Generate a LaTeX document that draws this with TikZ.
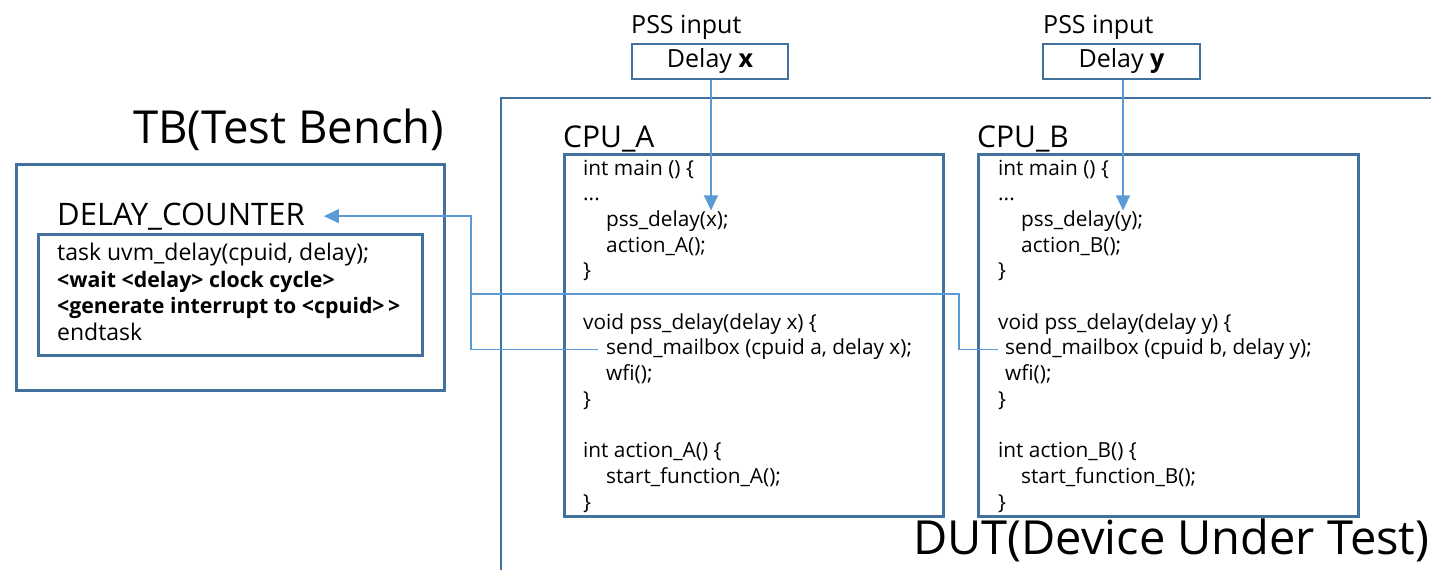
\documentclass[tikz,border=0pt]{standalone}
\usepackage{fontspec}
\setmainfont{Open Sans}
\usetikzlibrary{arrows.meta,calc}
\definecolor{boxblue}{RGB}{65,113,156}
\definecolor{linkblue}{RGB}{91,155,213}

\begin{document}
\begin{tikzpicture}[x=1pt,y=-1pt,
  frame/.style={draw=boxblue,line width=2.6pt,inner sep=0pt},
  conn/.style={draw=linkblue,line width=1.3pt},
  tip/.style={-{Triangle[length=15pt,width=14pt]}},
  txt/.style={anchor=base west,inner sep=0pt},
  code/.style={txt,font=\fontsize{20.8}{24}\selectfont},
  dccode/.style={txt,font=\fontsize{23}{27}\selectfont},
  dcbold/.style={txt,font=\fontsize{21.3}{27}\selectfont\bfseries},
  title/.style={txt,font=\fontsize{45.5}{50}\selectfont},
  blocklabel/.style={txt,font=\fontsize{30}{32}\selectfont},
  pss/.style={txt,font=\fontsize{25}{28}\selectfont},
]
\useasboundingbox (0,0) rectangle (1431,570);
\fill[white] (0,0) rectangle (1431,570);

% device under test (open to the right and below)
\draw[frame] (501,570) -- (501,98) -- (1431,98);
\node[title,font=\fontsize{47}{50}\selectfont] (dut) at (913,554) {DUT(Device Under Test)};

% test bench
\node[title] (tbt) at (133,143) {TB(Test Bench)};
\node[frame,minimum width=428pt,minimum height=226pt,anchor=north west] (tb) at (15,163) {};
\node[txt,font=\fontsize{31}{34}\selectfont] (dcl) at (57,225) {DELAY\_COUNTER};
\node[frame,minimum width=384pt,minimum height=121pt,anchor=north west] (dc) at (37,233) {};
\node[dccode] (dc1) at (57,260) {task uvm\_delay(cpuid, delay);};
\node[dcbold] (dc2) at (57,287) {<wait <delay> clock cycle>};
\node[dcbold] (dc3) at (57,313.5) {<generate interrupt to <cpuid>\,>};
\node[dccode] (dc4) at (57,340) {endtask};

% PSS inputs
\node[pss] (pa) at (631,33) {PSS input};
\node[frame,minimum width=156pt,minimum height=35pt,font=\fontsize{25}{28}\selectfont] (dx) at (710,61.5) {Delay \textbf{x}};
\node[pss] (pb) at (1043,33) {PSS input};
\node[frame,minimum width=157pt,minimum height=35pt,font=\fontsize{25}{28}\selectfont] (dy) at (1121.5,61.5) {Delay \textbf{y}};

% CPU blocks
\node[blocklabel] (cal) at (563,147) {CPU\_A};
\node[frame,minimum width=379pt,minimum height=362pt,anchor=north west] (cpua) at (563,153) {};
\node[blocklabel] (cbl) at (977,147) {CPU\_B};
\node[frame,minimum width=380pt,minimum height=362pt,anchor=north west] (cpub) at (977,153) {};

% CPU_A code
\node[code] (a0)  at (583,175.0) {int main () \{};
\node[code] (a1)  at (583,200.7) {...};
\node[code] (pssA) at (606,226.4) {pss\_delay(x);};
\node[code] (a3)  at (606,252.1) {action\_A();};
\node[code] (a4)  at (583,277.8) {\}};
\node[code] (a6)  at (583,329.2) {void pss\_delay(delay x) \{};
\node[code] (sendA) at (606,354.9) {send\_mailbox (cpuid a, delay x);};
\node[code] (a8)  at (606,380.6) {wfi();};
\node[code] (a9)  at (583,406.3) {\}};
\node[code] (a11) at (583,457.7) {int action\_A() \{};
\node[code] (a12) at (606,483.4) {start\_function\_A();};
\node[code] (a13) at (583,509.1) {\}};

% CPU_B code
\node[code] (b0)  at (998,175.0) {int main () \{};
\node[code] (b1)  at (998,200.7) {...};
\node[code] (pssB) at (1021,226.4) {pss\_delay(y);};
\node[code] (b3)  at (1021,252.1) {action\_B();};
\node[code] (b4)  at (998,277.8) {\}};
\node[code] (b6)  at (998,329.2) {void pss\_delay(delay y) \{};
\node[code] (sendB) at (1005,354.9) {send\_mailbox (cpuid b, delay y);};
\node[code] (b8)  at (1005,380.6) {wfi();};
\node[code] (b9)  at (998,406.3) {\}};
\node[code] (b11) at (998,457.7) {int action\_B() \{};
\node[code] (b12) at (1021,483.4) {start\_function\_B();};
\node[code] (b13) at (998,509.1) {\}};

% delay inputs into the code
\draw[conn,tip] (dx.south -| 711,0) -- (711,0 |- pssA.north);
\draw[conn,tip] (dy.south -| 1123,0) -- (1123,0 |- pssB.north);

% mailbox requests back to the delay counter
\coordinate (ja) at (471,294);
\coordinate (jb) at (959,294);
\draw[conn] ([xshift=-7pt]sendB.west) -| (jb) -- (ja);
\draw[conn,tip] ([xshift=-8pt]sendA.west) -| (ja) |- ([xshift=19pt]dcl.east);
\end{tikzpicture}
\end{document}
